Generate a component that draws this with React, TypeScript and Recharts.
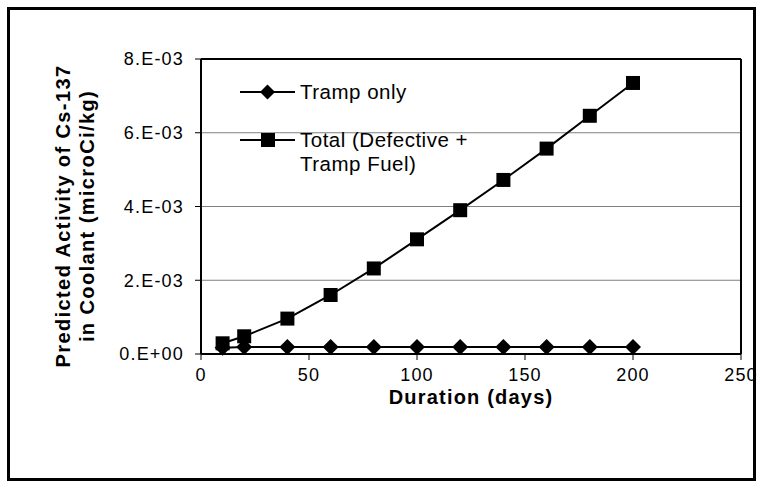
import React from "react";
import {
  LineChart,
  Line,
  XAxis,
  YAxis,
  CartesianGrid,
  ReferenceLine,
} from "recharts";

// durations (days)
const days = [10, 20, 40, 60, 80, 100, 120, 140, 160, 180, 200];
// predicted Cs-137 activity in coolant (microCi/kg)
const trampOnly = [0.00017, 0.00019, 0.00019, 0.00019, 0.00019, 0.00019, 0.00019, 0.00019, 0.00019, 0.00019, 0.00019];
const total = [0.00029, 0.00048, 0.00096, 0.0016, 0.00232, 0.00311, 0.0039, 0.00472, 0.00557, 0.00646, 0.00735];

const xTicks = [0, 50, 100, 150, 200, 250];
const yTicks = [0, 0.002, 0.004, 0.006, 0.008];

const data = days.map((d, i) => ({ day: d, tramp: trampOnly[i], total: total[i] }));

const FONT = "'Liberation Sans', Arial, sans-serif";

// Excel-style "8.E-03"
const sci = (v: number) => {
  const [m, e] = v.toExponential(0).split("e");
  const sign = e.startsWith("-") ? "-" : "+";
  const n = Math.abs(parseInt(e, 10));
  return `${m}.E${sign}${n < 10 ? "0" + n : n}`;
};

const Diamond = (props: any) => {
  const { cx, cy } = props;
  if (cx == null || cy == null) return null;
  const r = 8;
  return <path d={`M${cx},${cy - r}L${cx + r},${cy}L${cx},${cy + r}L${cx - r},${cy}Z`} fill="#000" />;
};

const Square = (props: any) => {
  const { cx, cy } = props;
  if (cx == null || cy == null) return null;
  return <rect x={cx - 7} y={cy - 7} width={14} height={14} fill="#000" />;
};

const LegendBox = () => {
  const txt = { fontSize: 20.5, lineHeight: "24px", letterSpacing: 0.5, color: "#000" } as const;
  return (
    <div style={{ position: "absolute", left: 240, top: 80, fontFamily: FONT }}>
      <div style={{ display: "flex", alignItems: "flex-start", marginBottom: 24 }}>
        <svg width={60} height={24}>
          <line x1={0} y1={12} x2={55} y2={12} stroke="#000" strokeWidth={2} />
          <path d="M27.5,4.5L35,12L27.5,19.5L20,12Z" fill="#000" />
        </svg>
        <span style={txt}>Tramp only</span>
      </div>
      <div style={{ display: "flex", alignItems: "flex-start" }}>
        <svg width={60} height={24}>
          <line x1={0} y1={12} x2={55} y2={12} stroke="#000" strokeWidth={2} />
          <rect x={21} y={5} width={14} height={14} fill="#000" />
        </svg>
        <span style={txt}>
          Total (Defective +
          <br />
          Tramp Fuel)
        </span>
      </div>
    </div>
  );
};

const YTitle = () => (
  <g fontFamily={FONT} fontWeight="bold" fontSize={20} letterSpacing={1.4} fill="#000">
    <text x={63} y={216} textAnchor="middle" dominantBaseline="central" transform="rotate(-90, 63, 216)">
      Predicted Activity of Cs-137
    </text>
    <text x={87} y={216} textAnchor="middle" dominantBaseline="central" transform="rotate(-90, 87, 216)">
      in Coolant (microCi/kg)
    </text>
  </g>
);

export default function App() {
  return (
    <div style={{ position: "absolute", left: 0, top: 0, width: 759, height: 485, background: "#fff" }}>
      <LineChart
        width={759}
        height={485}
        data={data}
        margin={{ top: 59, right: 18, bottom: 101, left: 0 }}
        style={{ fontFamily: FONT }}
      >
        <CartesianGrid vertical={false} stroke="#808080" strokeWidth={1} />
        <XAxis
          dataKey="day"
          type="number"
          domain={[0, 250]}
          ticks={xTicks}
          height={30}
          axisLine={{ stroke: "#000", strokeWidth: 2 }}
          tickLine={{ stroke: "#000", strokeWidth: 1 }}
          tickSize={6}
          tickMargin={8}
          tick={{ fill: "#000", fontSize: 18, letterSpacing: 1.2 }}
          label={{
            value: "Duration (days)",
            position: "bottom",
            offset: 6,
            fill: "#000",
            fontSize: 20,
            letterSpacing: 1.2,
            fontWeight: "bold",
          }}
        />
        <YAxis
          type="number"
          domain={[0, 0.008]}
          ticks={yTicks}
          width={201}
          axisLine={{ stroke: "#000", strokeWidth: 2 }}
          tickLine={{ stroke: "#000", strokeWidth: 1 }}
          tickSize={6}
          tickMargin={11}
          tickFormatter={sci}
          tick={{ fill: "#000", fontSize: 18, letterSpacing: 1.2 }}
        />
        <ReferenceLine y={0.008} stroke="#000" strokeWidth={2} />
        <ReferenceLine x={250} stroke="#000" strokeWidth={2} />
        <Line
          dataKey="tramp"
          stroke="#000"
          strokeWidth={2}
          dot={<Diamond />}
          activeDot={false}
          isAnimationActive={false}
        />
        <Line
          dataKey="total"
          stroke="#000"
          strokeWidth={2}
          dot={<Square />}
          activeDot={false}
          isAnimationActive={false}
        />
        <YTitle />
      </LineChart>
      <LegendBox />
      <div
        style={{
          position: "absolute",
          left: 7,
          top: 7,
          width: 749,
          height: 474,
          border: "3px solid #000",
          boxSizing: "border-box",
          pointerEvents: "none",
        }}
      />
    </div>
  );
}
